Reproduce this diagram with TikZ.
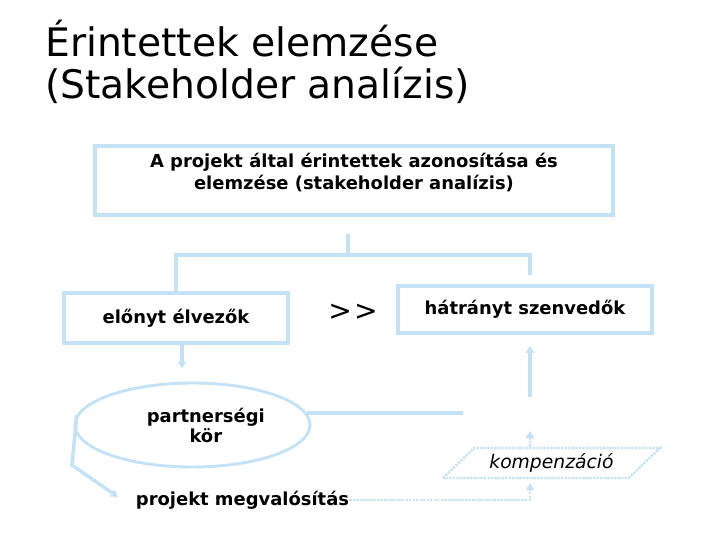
\documentclass[tikz,border=0pt]{standalone}
\usepackage{fontspec}
\setmainfont{DejaVu Sans}
\usetikzlibrary{shapes.geometric, arrows.meta, positioning, calc}
\definecolor{paleblue}{RGB}{196,226,245}

\begin{document}
\begin{tikzpicture}[
    x=0.03cm, y=-0.03cm,
    box/.style={draw=paleblue, line width=3pt, align=center, font=\bfseries\fontsize{15.3}{18.7}\selectfont},
    boxtext/.style={align=center, inner sep=0pt, font=\bfseries\fontsize{15.3}{18.7}\selectfont},
    oval/.style={draw=paleblue, ellipse, line width=2.5pt, align=center, font=\bfseries\fontsize{15.3}{17}\selectfont},
    slanted/.style={draw=paleblue, trapezium, trapezium left angle=45, trapezium right angle=135, trapezium stretches=true, line width=2pt, dash pattern=on 2pt off 1pt, font=\itshape\fontsize{16}{19}\selectfont},
    link/.style={draw=paleblue, line width=3pt},
    arrow/.style={link, -{Triangle[width=7pt,length=6pt]}},
    dotarrow/.style={arrow, line width=2pt, dash pattern=on 2pt off 1pt}
]
    \useasboundingbox (0,0) rectangle (720,540);

    % title
    \node[anchor=north west, inner sep=0pt, align=left, font=\fontsize{33.5}{35.7}\selectfont] (title) at (45,20) {Érintettek elemzése\\(Stakeholder analízis)};

    % boxes
    \node[box, minimum width=15.54cm, minimum height=2.07cm] (stake) at (354,180.5) {};
    \node[boxtext, anchor=north] (staketext) at (354,153) {A projekt által érintettek azonosítása és\\elemzése (stakeholder analízis)};
    \node[box, minimum width=6.72cm, minimum height=1.5cm] (elony) at (176,318) {előnyt élvezők};
    \node[box, minimum width=7.62cm, minimum height=1.41cm] (hatrany) at (525,309.5) {hátrányt szenvedők};
    \node[font=\fontsize{24}{24}\selectfont] (gt) at (353,312) {>\kern2pt>};
    \node[oval, minimum width=7.05cm, minimum height=2.52cm] (kor) at (192.5,425) {\hspace*{0.8cm}partnerségi\\\hspace*{0.8cm}kör};
    \node[slanted, minimum width=6.51cm, minimum height=0.9cm] (komp) at (551.5,463) {kompenzáció};
    \node[boxtext] (proj) at (242.5,500) {projekt megvalósítás};

    % connectors
    \coordinate (split) at (348,255);
    \coordinate (gapbottom) at (530,397);
    \coordinate (gaptop) at (530,431);
    \coordinate (ovalend) at (463,413);
    \coordinate (loopbend) at (72,465);

    \draw[link, shorten <=0.51cm] (stake.south -| split) -- (split);
    \draw[link] (split) -| (elony.north);
    \draw[link, shorten >=0.27cm] (split) -| (hatrany.north -| gapbottom);
    \draw[arrow, shorten >=0.39cm] ($(elony.south)+(6,0)$) -- ($(elony.south |- kor.north)+(6,0)$);
    \draw[link] (kor.6) -- (kor.6 -| ovalend);
    \draw[arrow, shorten >=0.33cm] (gapbottom) -- (gapbottom |- hatrany.south);
    \draw[dotarrow] (komp.north -| gaptop) -- (gaptop);
    \draw[dotarrow, shorten >=0.12cm] (proj.east) -| (komp.south -| gaptop);
    \draw[arrow, shorten >=0.65cm] (kor.175) -- (loopbend) -- (proj.south west);
\end{tikzpicture}
\end{document}
